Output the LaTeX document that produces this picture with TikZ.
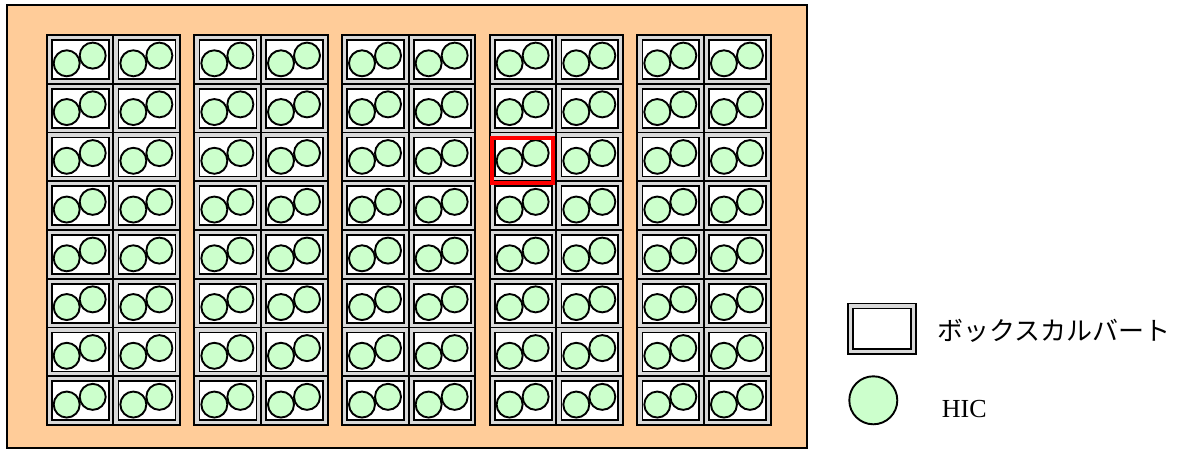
\documentclass[tikz,border=0pt]{standalone}
\usepackage{fontspec}
\setmainfont{Liberation Serif}
\newfontfamily\jpfont{Noto Sans CJK JP}
\definecolor{pad}{HTML}{FFCC99}
\definecolor{hicgreen}{HTML}{CCFFCC}
\definecolor{shell}{HTML}{D9D9D9}
\tikzset{
  site/.style={draw=black, fill=pad, line width=1.5pt, minimum width=800pt, minimum height=443pt, anchor=north west, inner sep=0pt, outer sep=0pt},
  culvert/.style={draw=black, fill=shell, line width=1.8pt, minimum width=66.65pt, minimum height=48.75pt, anchor=north west, inner sep=0pt, outer sep=0pt},
  innerbox/.style={draw=black, fill=white, line width=1.8pt},
  hiccirc/.style={circle, draw=black, fill=hicgreen, line width=1.9pt, minimum size=26pt, inner sep=0pt},
  legcirc/.style={circle, draw=black, fill=hicgreen, line width=1.9pt, minimum size=48pt, inner sep=0pt},
  legtext/.style={inner sep=0pt, font=\fontsize{26}{30}\selectfont},
  selected/.style={draw=red, line width=4pt}
}
\begin{document}
\begin{tikzpicture}[x=1pt,y=-1pt]
\useasboundingbox (0,0) rectangle (1189,450);
\node[site] (site) at (7,5) {};
\foreach \g in {0,...,4} {
  \foreach \c in {0,1} {
    \foreach \r in {0,...,7} {
      \pgfmathsetmacro\bx{46.7+\g*147.65+\c*66.65}
      \pgfmathsetmacro\by{35+\r*48.75}
      \node[culvert] (b\g\c\r) at (\bx,\by) {};
      \draw[innerbox] ([shift={(5.2,5)}]b\g\c\r.north west) rectangle ([shift={(-4.6,-4.8)}]b\g\c\r.south east);
      \node[hiccirc] (h\g\c\r a) at ([shift={(20,28.3)}]b\g\c\r.north west) {};
      \node[hiccirc] (h\g\c\r b) at ([shift={(46,20.6)}]b\g\c\r.north west) {};
    }
  }
}
\draw[selected] ([shift={(2.3,5.2)}]b302.north west) rectangle ([shift={(-3.3,1.8)}]b302.south east);
% legend
\node[culvert, minimum width=68pt, minimum height=50.5pt] (legbox) at (848.3,303.5) {};
\draw[innerbox] ([shift={(5,5)}]legbox.north west) rectangle ([shift={(-5,-5)}]legbox.south east);
\node[legtext, anchor=west] (legboxtext) at (937,331) {\jpfont ボックスカルバート};
\node[legcirc] (leghic) at (873.3,400.3) {};
\node[legtext, anchor=base west] (leghictext) at (941.7,417.3) {HIC};
\end{tikzpicture}
\end{document}
